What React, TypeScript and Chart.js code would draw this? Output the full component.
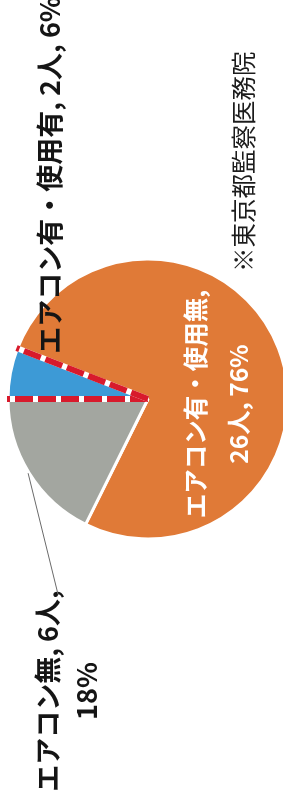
import React, { useEffect, useRef } from "react";
import { Chart, registerables } from "chart.js";

Chart.register(...registerables);

const categories = ["エアコン有・使用有", "エアコン有・使用無", "エアコン無"];
const counts = [2, 26, 6];
const percents = ["6%", "76%", "18%"];
const sliceColors = ["#3D9AD6", "#E07A37", "#A3A6A0"];
const footnote = "※東京都監察医務院";

const labelLines: string[][] = [
  [`${categories[0]}, ${counts[0]}人, ${percents[0]}`],
  [`${categories[1]},`, `${counts[1]}人, ${percents[1]}`],
  [`${categories[2]}, ${counts[2]}人,`, percents[2]],
];

const FONT = '"Noto Sans CJK JP", "Noto Sans", sans-serif';

function drawRotated(ctx: CanvasRenderingContext2D, lines: string[], x: number, y: number, font: string, color: string, spacing: number) {
  ctx.save();
  ctx.translate(x, y);
  ctx.rotate(-Math.PI / 2);
  ctx.font = font;
  ctx.fillStyle = color;
  ctx.textAlign = "center";
  ctx.textBaseline = "middle";
  const n = lines.length;
  lines.forEach((l, i) => {
    ctx.fillText(l, 0, (i - (n - 1) / 2) * spacing);
  });
  ctx.restore();
}

const overlayPlugin = {
  id: "overlay",
  afterDatasetsDraw(chart: any) {
    const ctx: CanvasRenderingContext2D = chart.ctx;
    const arcs = chart.getDatasetMeta(0).data as any[];
    const blue = arcs[0].getProps(["x", "y", "startAngle", "endAngle", "outerRadius"], true);
    const cx = blue.x, cy = blue.y, r = blue.outerRadius;

    // dashed red edges of the highlighted slice
    ctx.save();
    ctx.lineCap = "butt";
    for (const ang of [blue.startAngle, blue.endAngle]) {
      const ex = cx + Math.cos(ang) * (r + 1);
      const ey = cy + Math.sin(ang) * (r + 1);
      ctx.beginPath();
      ctx.moveTo(cx, cy);
      ctx.lineTo(ex, ey);
      ctx.lineWidth = 6;
      ctx.setLineDash([]);
      ctx.strokeStyle = "#ffffff";
      ctx.stroke();
      ctx.setLineDash([18, 5]);
      ctx.strokeStyle = "#D81A2C";
      ctx.stroke();
    }
    ctx.restore();

    // labels
    const bold27 = `bold 27px ${FONT}`;
    drawRotated(ctx, labelLines[0], cx - 0.7 * r, cy - 1.6 * r, bold27, "#151515", 39);
    drawRotated(ctx, labelLines[1], cx + 0.496 * r, cy + 0.036 * r, `bold 24.5px ${FONT}`, "#ffffff", 43);
    const gx = cx - 0.575 * r, gy = cy + 2.086 * r;
    drawRotated(ctx, labelLines[2], gx, gy, bold27, "#151515", 39);

    // leader line for the gray slice
    const gray = arcs[2].getProps(["startAngle", "endAngle"], true);
    const mid = (gray.startAngle + gray.endAngle) / 2;
    ctx.save();
    ctx.font = bold27;
    const w = ctx.measureText(labelLines[2][0]).width;
    ctx.beginPath();
    ctx.moveTo(cx + Math.cos(mid) * (r + 1), cy + Math.sin(mid) * (r + 1));
    ctx.lineTo(gx - 19.5 + 10, gy - w / 2 + 4);
    ctx.lineWidth = 1;
    ctx.strokeStyle = "#6a6a6a";
    ctx.stroke();
    ctx.restore();

    // footnote
    drawRotated(ctx, [footnote], cx + 0.68 * r, cy - 1.695 * r, `24.5px ${FONT}`, "#1c1c1c", 30);
  },
};

export default function App() {
  const ref = useRef<HTMLCanvasElement | null>(null);
  useEffect(() => {
    if (!ref.current) return;
    const chart = new Chart(ref.current, {
      type: "pie",
      data: {
        labels: categories,
        datasets: [
          {
            data: counts,
            backgroundColor: sliceColors,
            borderColor: "#ffffff",
            borderWidth: 3,
            radius: 140,
            clip: false,
          } as any,
        ],
      },
      options: {
        responsive: false,
        animation: false,
        events: [],
        rotation: 270,
        layout: { padding: { left: 13, right: 0, top: 0, bottom: 3 } },
        plugins: {
          legend: { display: false },
          tooltip: { enabled: false },
          title: { display: false },
        },
      } as any,
      plugins: [overlayPlugin],
    });
    return () => chart.destroy();
  }, []);
  return (
    <div style={{ position: "absolute", left: 0, top: 0, width: 283, height: 801, overflow: "hidden", background: "#ffffff" }}>
      <canvas ref={ref} width={283} height={801} style={{ display: "block", width: 283, height: 801 }} />
    </div>
  );
}
